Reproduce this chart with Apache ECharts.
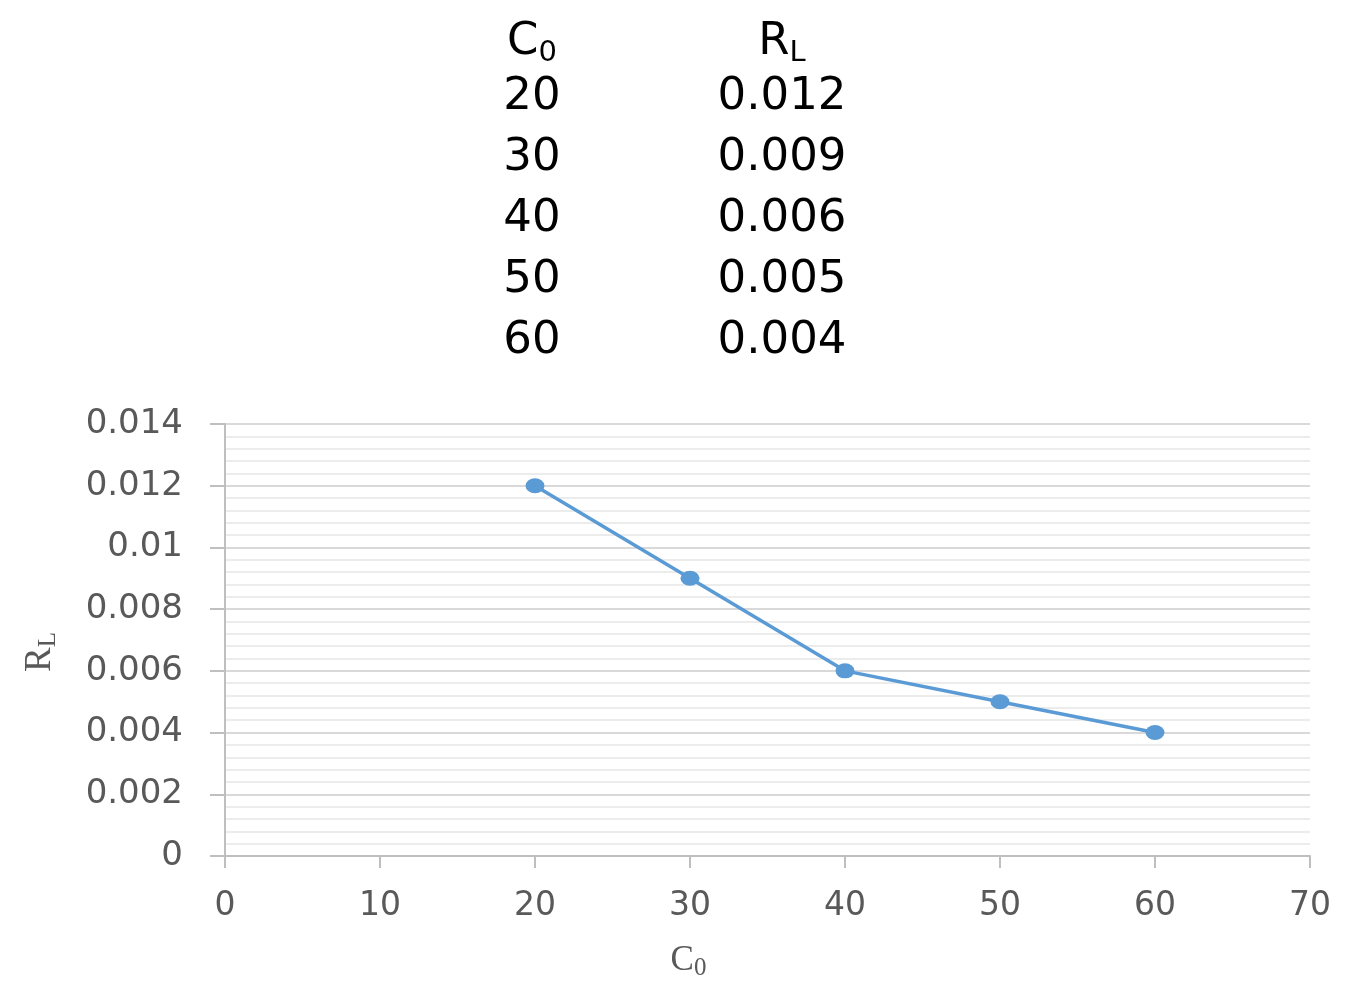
<!DOCTYPE html>
<html>
<head>
    <meta charset="utf-8">
    <title>RL vs C0</title>
    <script src="https://cdn.jsdelivr.net/npm/echarts@6/dist/echarts.min.js"></script>
    <style>
        html, body { margin: 0; padding: 0; background: #fff; }
        #chart1 { width: 1356px; height: 998px; }
    </style>
</head>
<body>
<div id="chart1"></div>
<script type="text/javascript">
    // data
    var c0Values = [20, 30, 40, 50, 60];
    var rlValues = [0.012, 0.009, 0.006, 0.005, 0.004];
    var rlLabels = ['0.012', '0.009', '0.006', '0.005', '0.004'];
    var xTicks = [0, 10, 20, 30, 40, 50, 60, 70];
    var yTicks = [0, 0.002, 0.004, 0.006, 0.008, 0.01, 0.012, 0.014];

    var sans = 'DejaVu Sans';
    var serif = 'Liberation Serif';

    // small table above the plot
    var tableItems = [];
    var colX = [532, 782];
    tableItems.push({
        type: 'text', x: colX[0], y: 42,
        style: {
            text: '{m|C}{s|0}', align: 'center', verticalAlign: 'middle',
            rich: {
                m: { fontFamily: sans, fontSize: 45, fill: '#000' },
                s: { fontFamily: sans, fontSize: 29, fill: '#000', padding: [22, 0, 0, 0] }
            }
        }
    });
    tableItems.push({
        type: 'text', x: colX[1], y: 42,
        style: {
            text: '{m|R}{s|L}', align: 'center', verticalAlign: 'middle',
            rich: {
                m: { fontFamily: sans, fontSize: 45, fill: '#000' },
                s: { fontFamily: sans, fontSize: 29, fill: '#000', padding: [22, 0, 0, 0] }
            }
        }
    });
    for (var i = 0; i < c0Values.length; i++) {
        tableItems.push({
            type: 'text', x: colX[0], y: 97 + i * 61,
            style: { text: String(c0Values[i]), fontFamily: sans, fontSize: 45, fill: '#000', align: 'center', verticalAlign: 'middle' }
        });
        tableItems.push({
            type: 'text', x: colX[1], y: 97 + i * 61,
            style: { text: rlLabels[i], fontFamily: sans, fontSize: 45, fill: '#000', align: 'center', verticalAlign: 'middle' }
        });
    }

    var points = c0Values.map(function (v, k) { return [v, rlValues[k]]; });

    var myChart = echarts.init(document.getElementById('chart1'));
    myChart.setOption({
        animation: false,
        backgroundColor: '#fff',
        graphic: tableItems,
        grid: { left: 225, right: 46, top: 424, bottom: 142 },
        xAxis: {
            type: 'value',
            min: xTicks[0],
            max: xTicks[xTicks.length - 1],
            interval: 10,
            name: '{m|C}{s|0}',
            nameLocation: 'middle',
            nameGap: 84,
            nameTextStyle: {
                padding: [0, 158, 0, 0],
                rich: {
                    m: { fontFamily: serif, fontSize: 35, color: '#595959' },
                    s: { fontFamily: serif, fontSize: 25, color: '#595959', padding: [16, 0, 0, 0] }
                }
            },
            axisLine: { show: true, lineStyle: { color: '#bfbfbf', width: 2 } },
            axisTick: { show: true, length: 12, lineStyle: { color: '#bfbfbf', width: 2 } },
            axisLabel: {
                margin: 34, fontFamily: sans, fontSize: 33, color: '#595959',
                formatter: function (v) { return xTicks.indexOf(v) >= 0 ? String(v) : ''; }
            },
            splitLine: { show: false }
        },
        yAxis: {
            type: 'value',
            min: yTicks[0],
            max: yTicks[yTicks.length - 1],
            interval: 0.002,
            name: '{m|R}{s|L}',
            nameLocation: 'middle',
            nameGap: 164,
            nameRotate: 90,
            nameTextStyle: {
                padding: [0, 24, 0, 0],
                rich: {
                    m: { fontFamily: serif, fontSize: 37, color: '#595959' },
                    s: { fontFamily: serif, fontSize: 25, color: '#595959', padding: [16, 0, 0, 0] }
                }
            },
            axisLine: { show: true, lineStyle: { color: '#bfbfbf', width: 2 } },
            axisTick: { show: true, length: 15, lineStyle: { color: '#bfbfbf', width: 2 } },
            axisLabel: {
                margin: 42, fontFamily: sans, fontSize: 34, color: '#595959',
                formatter: function (v) {
                    var r = Math.round(v * 1000) / 1000;
                    return r === 0 ? '0' : String(r);
                }
            },
            splitLine: { show: true, lineStyle: { color: '#d9d9d9', width: 2 } },
            minorTick: { show: false, splitNumber: 5 },
            minorSplitLine: { show: true, lineStyle: { color: '#ececec', width: 2 } }
        },
        series: [{
            type: 'line',
            data: points,
            symbol: 'circle',
            symbolSize: [19, 15],
            itemStyle: { color: '#5b9bd5' },
            lineStyle: { color: '#5b9bd5', width: 3.5 }
        }]
    });
</script>
</body>
</html>
